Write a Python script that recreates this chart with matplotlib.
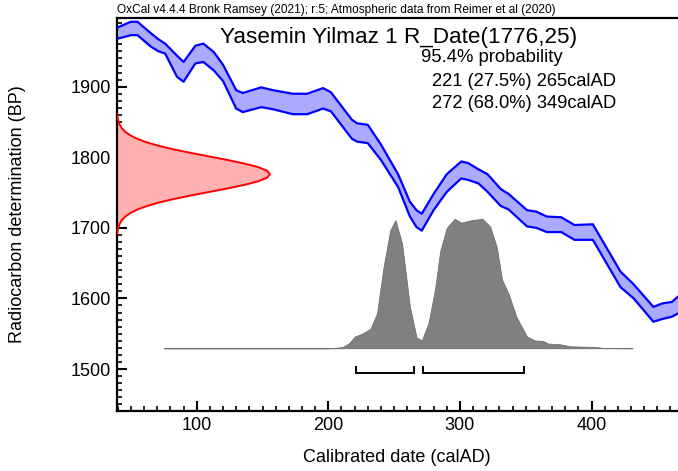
import matplotlib
matplotlib.use('Agg')
import matplotlib.pyplot as plt
from matplotlib.ticker import MultipleLocator

plt.rcParams['font.family'] = ['Liberation Sans', 'DejaVu Sans']

# Calibration curve (IntCal20 band, upper / lower bounds in BP)
cal_years = [40, 50, 55, 65, 71, 76, 85, 90, 99, 105, 113, 120, 130, 135, 149, 158,
             173, 184, 196, 202, 218, 222, 230, 240, 253, 262, 267, 271, 280, 290,
             301, 306, 314, 321, 331, 337, 351, 358, 366, 377, 387, 401, 422, 432,
             447, 454, 461, 466]
cal_upper = [1984, 1992, 1992, 1976, 1967, 1961, 1944, 1935, 1958, 1961, 1949, 1931,
             1895, 1891, 1899, 1895, 1890, 1890, 1898, 1892, 1853, 1848, 1846, 1818,
             1776, 1737, 1725, 1720, 1748, 1776, 1794, 1792, 1783, 1776, 1755, 1748,
             1725, 1723, 1716, 1715, 1704, 1705, 1638, 1620, 1588, 1593, 1595, 1603]
cal_lower = [1968, 1973, 1973, 1957, 1950, 1947, 1914, 1907, 1933, 1935, 1923, 1908,
             1869, 1864, 1871, 1868, 1861, 1861, 1869, 1865, 1826, 1822, 1820, 1796,
             1758, 1716, 1701, 1696, 1725, 1751, 1770, 1768, 1763, 1751, 1731, 1726,
             1702, 1700, 1694, 1694, 1683, 1683, 1616, 1600, 1567, 1571, 1574, 1579]

# Radiocarbon measurement distribution (relative density vs BP)
c14_bp = [1691, 1696, 1701, 1706, 1711, 1716, 1721, 1726, 1731, 1736, 1741, 1746,
          1751, 1756, 1761, 1766, 1771, 1776, 1781, 1786, 1791, 1796, 1801, 1806,
          1811, 1816, 1821, 1826, 1831, 1836, 1841, 1846, 1851, 1856, 1861]
c14_density = [0.003, 0.006, 0.011, 0.020, 0.034, 0.056, 0.089, 0.135, 0.198, 0.278,
               0.375, 0.487, 0.607, 0.726, 0.835, 0.923, 0.980, 1.000, 0.980, 0.923,
               0.835, 0.726, 0.607, 0.487, 0.375, 0.278, 0.198, 0.135, 0.089, 0.056,
               0.034, 0.020, 0.011, 0.006, 0.003]

# Calibrated date distribution (relative probability vs calAD)
hist_years = [75, 200, 205, 211, 216, 220, 225, 232, 237, 242, 247, 251, 256, 262,
              267, 271, 276, 281, 285, 290, 296, 301, 309, 317, 323, 328, 332, 337,
              343, 351, 357, 363, 367, 376, 384, 403, 409, 431]
hist_prob = [0, 0, 0.003, 0.01, 0.04, 0.09, 0.11, 0.15, 0.27, 0.63, 0.91, 0.99, 0.81,
             0.32, 0.085, 0.06, 0.19, 0.45, 0.75, 0.93, 1.0, 0.97, 0.99, 1.0, 0.94,
             0.78, 0.53, 0.42, 0.24, 0.09, 0.06, 0.057, 0.036, 0.031, 0.015, 0.01,
             0.002, 0]

# 95.4% ranges
range_starts = [221, 272]
range_ends = [265, 349]
range_pcts = ['27.5%', '68.0%']

header = "OxCal v4.4.4 Bronk Ramsey (2021); r:5; Atmospheric data from Reimer et al (2020)"
title = "Yasemin Yilmaz 1 R_Date(1776,25)"
x_label = "Calibrated date (calAD)"
y_label = "Radiocarbon determination (BP)"

XMIN, XMAX = 39.2, 465.7
YMIN, YMAX = 1440.5, 1997.3

fig = plt.figure(figsize=(6.78, 4.71), dpi=100)
ax = fig.add_axes([116.7 / 678, 1 - 411 / 471, 1 - 116.7 / 678, (411 - 18) / 471])
ax.set_xlim(XMIN, XMAX)
ax.set_ylim(YMIN, YMAX)

# calibration band
ax.fill_between(cal_years, cal_lower, cal_upper, color='#aaaaff', lw=0, zorder=2)
ax.plot(cal_years, cal_upper, color='#0000ff', lw=1.6, zorder=3)
ax.plot(cal_years, cal_lower, color='#0000ff', lw=1.6, zorder=3)

# measurement distribution on y axis
amp = 116.5
red_x = [XMIN + d * amp for d in c14_density]
ax.fill_betweenx(c14_bp, XMIN, red_x, color='#ffb0b0', lw=0, zorder=2)
ax.plot(red_x, c14_bp, color='#ff0000', lw=1.4, zorder=3)

# calibrated distribution
base = 1529.4
hscale = 183.4
hist_y = [base + p * hscale for p in hist_prob]
ax.fill_between(hist_years, base, hist_y, facecolor='#808080', edgecolor='#707070',
                lw=0.6, zorder=2)

# range brackets
br_low, br_high = 1494, 1502.5
for a, b in zip(range_starts, range_ends):
    ax.plot([a, a, b, b], [br_high, br_low, br_low, br_high], color='black',
            lw=1.4, zorder=3, solid_joinstyle='miter')

# axes styling
for s in ['left', 'bottom', 'top']:
    ax.spines[s].set_linewidth(1.6)
ax.spines['right'].set_visible(False)
ax.xaxis.set_major_locator(MultipleLocator(100))
ax.xaxis.set_minor_locator(MultipleLocator(10))
ax.yaxis.set_major_locator(MultipleLocator(100))
ax.yaxis.set_minor_locator(MultipleLocator(10))
ax.tick_params(which='major', direction='in', length=7, width=1.5, labelsize=13,
               pad=4, top=False, right=False)
ax.tick_params(which='minor', direction='in', length=3.5, width=1.2, top=False,
               right=False)

# texts
fig.text(116.7 / 678, 1 - 10.5 / 471, header, fontsize=8.6, ha='left', va='center')
fig.text(399 / 678, 1 - 37 / 471, title, fontsize=16.2, ha='center', va='center')
fig.text(421 / 678, 1 - 57 / 471, "95.4% probability", fontsize=13.3, ha='left',
         va='center')
for i, (a, b, p) in enumerate(zip(range_starts, range_ends, range_pcts)):
    fig.text(432 / 678, 1 - (81 + 23 * i) / 471, f"{a} ({p}) {b}calAD",
             fontsize=13.2, ha='left', va='center')
fig.text(397 / 678, 1 - 458 / 471, x_label, fontsize=13, ha='center', va='center')
fig.text(18 / 678, 1 - 214.5 / 471, y_label, fontsize=13, ha='center', va='center',
         rotation=90)

fig.savefig('out.png', dpi=100)
